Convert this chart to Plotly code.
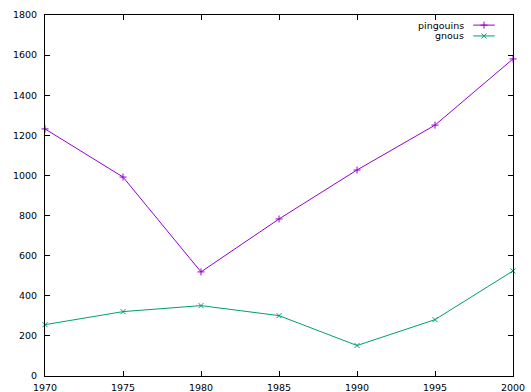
import plotly.graph_objects as go

years = [1970, 1975, 1980, 1985, 1990, 1995, 2000]
pingouins = [1232, 992, 519, 783, 1027, 1251, 1581]
gnous = [256, 321, 351, 301, 152, 281, 524]
series_names = ["pingouins", "gnous"]
colors = ["#9400D3", "#009E73"]
symbols = ["cross-thin", "x-thin"]

FONT = dict(family="DejaVu Sans, sans-serif", size=9.5, color="black")

fig = go.Figure()
for name, vals, col, sym in zip(series_names, [pingouins, gnous], colors, symbols):
    fig.add_trace(go.Scatter(
        x=years, y=vals, mode="lines+markers", name=name,
        line=dict(color=col, width=1),
        marker=dict(symbol=sym, size=5, color=col, line=dict(color=col, width=1)),
        showlegend=False, cliponaxis=False,
    ))

# manual gnuplot-style key (text left, sample right) on an overlay axis
key_y = [0.972, 0.942]
for name, col, sym, ky in zip(series_names, colors, symbols, key_y):
    fig.add_trace(go.Scatter(
        x=[0.915, 0.961], y=[ky, ky], mode="lines", xaxis="x2", yaxis="y2",
        line=dict(color=col, width=1), showlegend=False, hoverinfo="skip",
    ))
    fig.add_trace(go.Scatter(
        x=[0.938], y=[ky], mode="markers", xaxis="x2", yaxis="y2",
        marker=dict(symbol=sym, size=5, color=col, line=dict(color=col, width=1)),
        showlegend=False, hoverinfo="skip",
    ))
    fig.add_annotation(x=0.9, y=ky, xref="x2 domain", yref="y2 domain",
                       text=name, showarrow=False, xanchor="right", yanchor="middle",
                       font=FONT)

axis_common = dict(
    showgrid=False, zeroline=False, showline=True, linecolor="black", linewidth=1,
    mirror="allticks", ticks="inside", ticklen=5, tickwidth=1, tickcolor="black",
    tickfont=FONT, automargin=False,
)
fig.update_layout(
    width=531, height=392,
    margin=dict(l=45, r=18, t=15, b=16),
    paper_bgcolor="white", plot_bgcolor="white",
    xaxis=dict(range=[1970, 2000], tickvals=years, ticklabelstandoff=3, **axis_common),
    yaxis=dict(range=[0, 1800], tickvals=list(range(0, 1801, 200)), ticklabelstandoff=5, **axis_common),
    xaxis2=dict(overlaying="x", range=[0, 1], visible=False),
    yaxis2=dict(overlaying="y", range=[0, 1], visible=False),
    font=FONT,
    hovermode=False,
)
fig.write_html("out.html", config={"displayModeBar": False, "staticPlot": True},
               post_script="document.body.style.margin='0';document.body.style.overflow='hidden';")
